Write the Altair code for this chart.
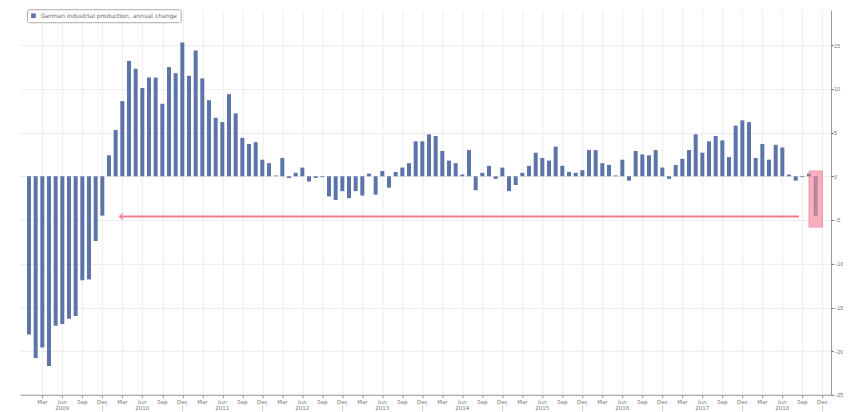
import altair as alt
import pandas as pd

# ---- data ----
series_name = "German industrial production, annual change"
start_year = 2009
values = [
    -18.1, -20.8, -19.6, -21.7, -17.1, -16.9, -16.3, -16.0, -11.9, -11.8, -7.4, -4.5,   # 2009
    2.4, 5.3, 8.6, 13.2, 12.3, 10.1, 11.3, 11.3, 8.3, 12.5, 11.8, 15.3,                  # 2010
    11.5, 14.4, 11.2, 8.7, 6.7, 6.2, 9.4, 7.2, 4.4, 3.7, 3.9, 1.9,                        # 2011
    1.5, 0.1, 2.1, -0.2, 0.4, 1.0, -0.6, -0.2, -0.1, -2.3, -2.7, -1.7,                    # 2012
    -2.5, -1.7, -2.2, 0.3, -2.1, 0.6, -1.3, 0.5, 1.0, 1.5, 4.0, 4.0,                      # 2013
    4.8, 4.6, 2.9, 1.8, 1.5, 0.2, 3.0, -1.6, 0.4, 1.2, -0.3, 1.0,                         # 2014
    -1.7, -1.0, 0.4, 1.2, 2.7, 2.1, 1.8, 3.4, 1.2, 0.5, 0.4, 0.7,                         # 2015
    3.0, 3.0, 1.5, 1.3, 0.1, 1.9, -0.5, 2.9, 2.5, 2.4, 3.0, 1.0,                          # 2016
    -0.3, 1.3, 2.0, 3.0, 4.8, 2.7, 4.0, 4.6, 4.1, 2.2, 5.8, 6.4,                          # 2017
    6.2, 2.1, 3.7, 1.9, 3.6, 3.3, 0.2, -0.5, -0.1, 0.3, -4.5,                             # 2018 (Jan-Nov)
]
quarter_names = ["Mar", "Jun", "Sep", "Dec"]
years = [str(start_year + k) for k in range(10)]
y_ticks = [-25, -20, -15, -10, -5, 0, 5, 10, 15]

# annotation (in month-index / value units)
arrow_from = [115.5]
arrow_to = [13.6]
arrow_level = [-4.6]
box_x = [117.0]
box_x2 = [119.0]
box_top = [0.6]
box_bottom = [-5.8]

# ---- tables ----
df = pd.DataFrame({"i": list(range(len(values))), "v": values, "series": series_name})
quarter_idx = [i for i in range(2, 120, 3)]
month_df = pd.DataFrame({
    "x": quarter_idx,
    "t": [quarter_names[(i // 3) % 4] for i in quarter_idx],
    "y": [-25] * len(quarter_idx),
})
sub_rows = []
for k, yr in enumerate(years):
    sub_rows.append({"x": 12 * k + 5, "t": yr, "y": -25})
    sub_rows.append({"x": 12 * k + 11, "t": "|", "y": -25})
sub_df = pd.DataFrame(sub_rows)
arrow_df = pd.DataFrame({"x": arrow_from, "x2": arrow_to, "y": arrow_level})
head_df = pd.DataFrame({"x": arrow_to, "y": arrow_level})
box_df = pd.DataFrame({"x": box_x, "x2": box_x2, "y": box_top, "y2": box_bottom})

x_scale = alt.Scale(domain=[-1.35, 120.3], nice=False, zero=False, padding=0)
y_scale = alt.Scale(domain=[-25, 19], nice=False, zero=False)

x_axis = alt.Axis(
    values=quarter_idx, labels=False, title=None, grid=True,
    gridColor="#ededed", gridWidth=1, tickSize=3, tickColor="#999",
    domainColor="#999",
)
y_axis = alt.Axis(
    orient="right", values=y_ticks, title=None, grid=True, gridColor="#ededed",
    labelFontSize=5.5, labelColor="#777", labelFont="Liberation Sans",
    tickSize=2, tickColor="#555", domainColor="#999", labelPadding=0.5,
    labelOverlap=False,
)

X = lambda f: alt.X(f, scale=x_scale, axis=x_axis)
Y = lambda f: alt.Y(f, scale=y_scale, axis=y_axis)

bars = alt.Chart(df).mark_bar(width=4).encode(
    x=X("i:Q"),
    y=Y("v:Q"),
    color=alt.Color(
        "series:N",
        scale=alt.Scale(domain=[series_name], range=["#5d74a9"]),
        legend=alt.Legend(
            title=None, orient="none", legendX=7, legendY=-1, labelFontSize=6,
            labelColor="#666", labelFont="DejaVu Sans", symbolType="square",
            symbolSize=22, fillColor="white", strokeColor="#aaa", padding=3,
            cornerRadius=2,
        ),
    ),
)

month_labels = alt.Chart(month_df).mark_text(
    baseline="top", dy=5, fontSize=5.5, color="#777", font="DejaVu Sans"
).encode(x=X("x:Q"), y=Y("y:Q"), text="t:N")

sub_labels = alt.Chart(sub_df).mark_text(
    baseline="top", dy=11.5, fontSize=5.5, color="#777", font="DejaVu Sans"
).encode(x=X("x:Q"), y=Y("y:Q"), text="t:N")

box = alt.Chart(box_df).mark_rect(
    fill="#f3889a", opacity=0.65, stroke="#e8607a", strokeWidth=1
).encode(x=X("x:Q"), x2="x2:Q", y=Y("y:Q"), y2="y2:Q")

arrow = alt.Chart(arrow_df).mark_rule(color="#f07a8c", strokeWidth=2).encode(
    x=X("x:Q"), x2="x2:Q", y=Y("y:Q"),
)

head = alt.Chart(head_df).mark_point(
    shape="M1,-1L0,0L1,1", filled=False, color="#f07a8c", size=40, strokeWidth=1.5
).encode(x=X("x:Q"), y=Y("y:Q"))

chart = alt.layer(bars, month_labels, sub_labels, arrow, head, box).properties(
    width=812, height=385, background="white",
    padding={"left": 12, "top": 0, "right": 0, "bottom": 0},
).configure_view(stroke=None)

chart.save("out.html", embed_options={"renderer": "svg", "actions": False})
